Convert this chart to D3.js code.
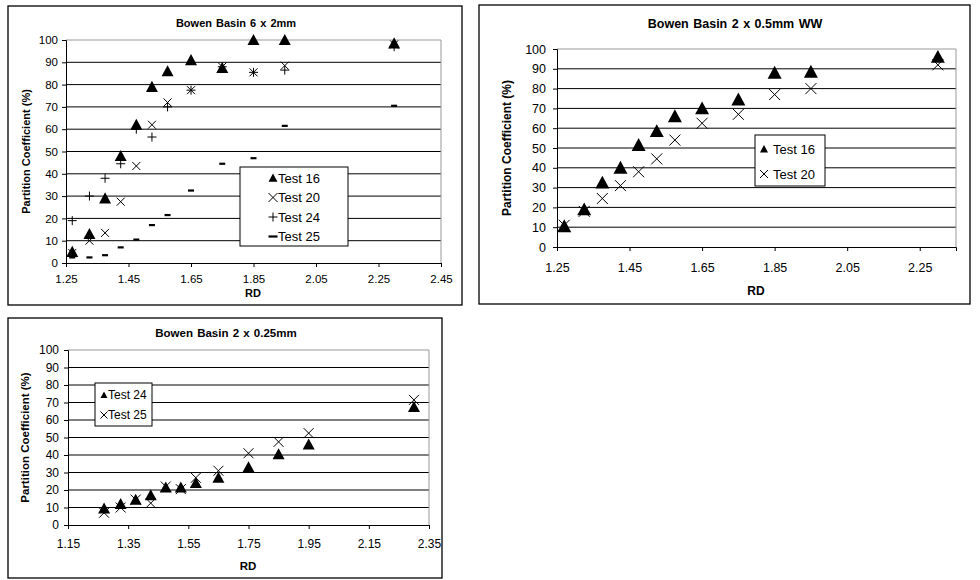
<!DOCTYPE html>
<html>
<head>
<meta charset="utf-8">
<script src="https://cdn.jsdelivr.net/npm/d3@7"></script>
<style>
body { margin: 0; background: #fff; }
svg { display: block; font-family: Arial, "Liberation Sans", sans-serif; }
</style>
</head>
<body>
<script>
// RD values (same for all tests)
const rd = [1.27, 1.325, 1.375, 1.425, 1.475, 1.525, 1.575, 1.65, 1.75, 1.85, 1.95, 2.3];

// Bowen Basin 6 x 2mm
const b1Test16 = [5, 13, 29, 48, 62, 79, 86, 91, 87.5, 100, 100, 98.5];
const b1Test20 = [4.5, 10, 13.5, 27.5, 43.5, 62, 72, 77.5, 88, 85.5, 88.5, 98];
const b1Test24 = [19, 30, 38, 44.5, 60, 56.5, 70, 77.5, 88, 85.5, 86.5, 97];
const b1Test25 = [2.5, 2.5, 3.5, 7, 10.5, 17, 21.5, 32.5, 44.5, 47, 61.5, 70.5];

// Bowen Basin 2 x 0.5mm WW
const b2Test16 = [10.5, 19, 32.5, 40, 51.5, 58.5, 66, 70, 74.5, 88, 88.5, 96];
const b2Test20 = [11, 18, 24.5, 31, 38, 44.5, 54, 62.5, 67, 77, 80, 92];

// Bowen Basin 2 x 0.25mm
const b3Test24 = [9.5, 12, 14.5, 17, 21.5, 21.5, 24, 27, 33, 40.5, 46, 67.5];
const b3Test25 = [7, 10, 14.5, 12.5, 22, 20.5, 27, 31, 41, 47.5, 52.5, 71.5];

const yTicks = [0, 10, 20, 30, 40, 50, 60, 70, 80, 90, 100];
const xTicks1 = [1.25, 1.45, 1.65, 1.85, 2.05, 2.25, 2.45];
const xTicks2 = [1.25, 1.45, 1.65, 1.85, 2.05, 2.25];
const xTicks3 = [1.15, 1.35, 1.55, 1.75, 1.95, 2.15, 2.35];

const W = 980, H = 580;
const svg = d3.select('body').append('svg').attr('width', W).attr('height', H);

function markerPath(type, s) {
  const h = s / 2;
  if (type == 'tri') return `M0,${-h}L${h},${h * 0.85}L${-h},${h * 0.85}Z`;
  if (type == 'x') return `M${-h},${-h}L${h},${h}M${-h},${h}L${h},${-h}`;
  if (type == 'plus') return `M${-h},0L${h},0M0,${-h}L0,${h}`;
  if (type == 'dash') return `M${-h},0L${h},0`;
}

function drawMarker(g, type, s) {
  const p = g.append('path').attr('d', markerPath(type, s));
  if (type == 'tri') p.attr('fill', '#000');
  else p.attr('fill', 'none').attr('stroke', '#000')
    .attr('stroke-width', type == 'dash' ? 2.2 : 1);
  return p;
}

function drawChart(c) {
  const g = svg.append('g');
  g.append('rect').attr('x', c.box[0]).attr('y', c.box[1])
    .attr('width', c.box[2]).attr('height', c.box[3])
    .attr('fill', '#fff').attr('stroke', '#000').attr('stroke-width', 1.3);

  const x = d3.scaleLinear().domain(c.xDomain).range([c.l, c.r]);
  const y = d3.scaleLinear().domain([0, 100]).range([c.b, c.t]);

  // gridlines
  g.selectAll('.grid').data(yTicks.filter(d => d > 0 && d < 100)).enter()
    .append('line')
    .attr('x1', c.l).attr('x2', c.r)
    .attr('y1', d => y(d)).attr('y2', d => y(d))
    .attr('stroke', '#000').attr('stroke-width', 1);

  // plot border (top/right grey)
  g.append('path')
    .attr('d', `M${c.l},${c.t}H${c.r}V${c.b}`)
    .attr('fill', 'none').attr('stroke', '#999').attr('stroke-width', 1);

  // y axis
  const ya = d3.axisLeft(y).tickValues(yTicks).tickSize(4).tickPadding(c.yPad).tickFormat(d3.format('d'));
  const yg = g.append('g').attr('transform', `translate(${c.l},0)`).call(ya);
  yg.selectAll('text').style('font-size', c.tickFont + 'px').attr('fill', '#000');
  yg.selectAll('line, path').attr('stroke', '#000');

  // x axis
  const xa = d3.axisBottom(x).tickValues(c.xTicks).tickSize(4).tickPadding(c.xPad).tickFormat(d3.format('.2f'));
  const xg = g.append('g').attr('transform', `translate(0,${c.b})`).call(xa);
  xg.selectAll('text').style('font-size', c.tickFont + 'px').attr('fill', '#000');
  xg.selectAll('line, path').attr('stroke', '#000');

  // titles
  g.append('text').attr('x', c.titleX).attr('y', c.titleY)
    .attr('text-anchor', 'middle').style('font-weight', 'bold')
    .style('font-size', c.titleFont + 'px').style('word-spacing', '1px').text(c.title);
  g.append('text').attr('x', c.rdX).attr('y', c.rdY)
    .attr('text-anchor', 'middle').style('font-weight', 'bold')
    .style('font-size', c.labelFont + 'px').text('RD');
  g.append('text')
    .attr('transform', `translate(${c.ylabX},${(c.t + c.b) / 2}) rotate(-90)`)
    .attr('text-anchor', 'middle').style('font-weight', 'bold')
    .style('font-size', c.labelFont + 'px').text('Partition Coefficient (%)');

  // series
  c.series.forEach(s => {
    const pts = rd.map((d, i) => [d, s.values[i]]);
    g.selectAll(null).data(pts).enter().append('g')
      .attr('transform', d => `translate(${x(d[0])},${y(d[1])})`)
      .each(function () { drawMarker(d3.select(this), s.type, s.size); });
  });

  // legend
  const L = c.legend;
  g.append('rect').attr('x', L.x).attr('y', L.y).attr('width', L.w).attr('height', L.h)
    .attr('fill', '#fff').attr('stroke', '#000').attr('stroke-width', 1);
  c.series.forEach((s, i) => {
    const ly = L.y + L.first + i * L.step;
    const mg = g.append('g').attr('transform', `translate(${L.mx},${ly})`);
    drawMarker(mg, s.type, L.msize);
    g.append('text').attr('x', L.tx).attr('y', ly).attr('dy', '0.36em')
      .style('font-size', L.font + 'px').text(s.name);
  });
}

drawChart({
  box: [8, 6, 454, 299], l: 66, r: 441, t: 40, b: 263,
  xDomain: [1.25, 2.45], xTicks: xTicks1, tickFont: 11.5, yPad: 4, xPad: 8,
  title: 'Bowen Basin 6 x 2mm', titleX: 236, titleY: 27, titleFont: 11,
  rdX: 253, rdY: 297, ylabX: 30, labelFont: 11,
  series: [
    { name: 'Test 16', type: 'tri', size: 12, values: b1Test16 },
    { name: 'Test 20', type: 'x', size: 8, values: b1Test20 },
    { name: 'Test 24', type: 'plus', size: 9, values: b1Test24 },
    { name: 'Test 25', type: 'dash', size: 6, values: b1Test25 }
  ],
  legend: { x: 240, y: 167, w: 108, h: 79, first: 11, step: 19.5, mx: 273, tx: 278, msize: 9, font: 13 }
});

drawChart({
  box: [479, 5, 491, 299], l: 557, r: 956, t: 49, b: 247,
  xDomain: [1.25, 2.35], xTicks: xTicks2, tickFont: 12.5, yPad: 7, xPad: 12,
  title: 'Bowen Basin 2 x 0.5mm WW', titleX: 735, titleY: 28, titleFont: 12.5,
  rdX: 756, rdY: 295, ylabX: 511, labelFont: 12,
  series: [
    { name: 'Test 16', type: 'tri', size: 14, values: b2Test16 },
    { name: 'Test 20', type: 'x', size: 11, values: b2Test20 }
  ],
  legend: { x: 755, y: 135, w: 70, h: 51, first: 14, step: 25, mx: 764, tx: 773, msize: 8, font: 13 }
});

drawChart({
  box: [8, 318, 434, 260], l: 68, r: 429, t: 350, b: 525,
  xDomain: [1.15, 2.35], xTicks: xTicks3, tickFont: 12, yPad: 5, xPad: 10,
  title: 'Bowen Basin 2 x 0.25mm', titleX: 226, titleY: 337, titleFont: 11.5,
  rdX: 248, rdY: 570, ylabX: 29, labelFont: 11.5,
  series: [
    { name: 'Test 24', type: 'tri', size: 12, values: b3Test24 },
    { name: 'Test 25', type: 'x', size: 10, values: b3Test25 }
  ],
  legend: { x: 95, y: 383, w: 57, h: 43, first: 12, step: 20, mx: 104, tx: 108, msize: 7, font: 12 }
});
</script>
</body>
</html>
